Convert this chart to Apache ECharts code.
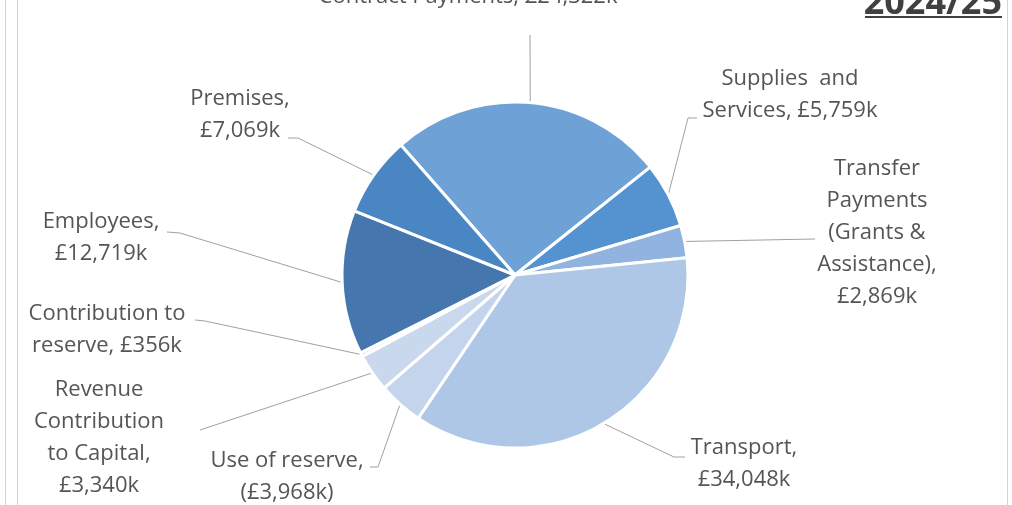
<!DOCTYPE html>
<html>
<head>
<meta charset="utf-8">
<script src="https://cdn.jsdelivr.net/npm/echarts@6/dist/echarts.min.js"></script>
<style>
html,body{margin:0;padding:0;background:#fff;}
#chart{width:1012px;height:505px;}
</style>
</head>
<body>
<div id="chart"></div>
<script>
// ---- data ----
const categories = [
  'Contract Payments',
  'Supplies  and\nServices',
  'Transfer\nPayments\n(Grants &\nAssistance)',
  'Transport',
  'Use of reserve',
  'Revenue\nContribution\nto Capital',
  'Contribution to\nreserve',
  'Employees',
  'Premises'
];
const values = [24322, 5759, 2869, 34048, -3968, 3340, 356, 12719, 7069]; // £k
const valueOnNewLine = [false, false, true, true, true, true, false, true, true];
const title = '2024/25';

// ---- style / layout ----
const colors = ['#6ea2d6', '#5593d0', '#90b4df', '#aec7e6', '#c4d4ec', '#cad8ed', '#dce6f3', '#4576ad', '#4a86c3'];
// label block centre and leader line bend/end points
const labelPos = [
  {x: 468, y: -3,  line: [[530, 35], [530, 35]]},
  {x: 790, y: 95,  line: [[688, 118], [697, 118]]},
  {x: 877, y: 233, line: [[815, 239], [815, 239]]},
  {x: 744, y: 464, line: [[674, 457], [685, 457]]},
  {x: 287, y: 477, line: [[378, 467], [370, 467]]},
  {x: 99,  y: 438, line: [[200, 430], [200, 430]]},
  {x: 107, y: 330, line: [[205, 321], [195, 320]]},
  {x: 101, y: 238, line: [[180, 233], [167, 232]]},
  {x: 240, y: 115, line: [[298, 138], [288, 138]]}
];

function fmtMoney(v) {
  const s = '£' + Math.abs(v).toLocaleString('en-GB') + 'k';
  return v < 0 ? '(' + s + ')' : s;
}

const data = categories.map((c, i) => ({
  name: c,
  value: Math.abs(values[i]),
  itemStyle: {color: colors[i]}
}));

const chart = echarts.init(document.getElementById('chart'), null, {renderer: 'canvas'});
chart.setOption({
  animation: false,
  backgroundColor: '#ffffff',
  graphic: [
    {type: 'line', shape: {x1: 5.5, y1: 0, x2: 5.5, y2: 505}, style: {stroke: '#d4d4d4', lineWidth: 1}},
    {type: 'line', shape: {x1: 17.5, y1: 0, x2: 17.5, y2: 505}, style: {stroke: '#d4d4d4', lineWidth: 1}},
    {type: 'line', shape: {x1: 1007.5, y1: 0, x2: 1007.5, y2: 505}, style: {stroke: '#d4d4d4', lineWidth: 1}},
    {type: 'text', right: 10, top: -14, style: {text: title, font: 'bold 36px "Open Sans"', fill: '#404040'}},
    {type: 'line', shape: {x1: 865, y1: 17, x2: 1002, y2: 17}, style: {stroke: '#404040', lineWidth: 2}}
  ],
  series: [{
    type: 'pie',
    center: [515, 275],
    radius: 173,
    startAngle: 131.3,
    clockwise: true,
    avoidLabelOverlap: false,
    data: data,
    itemStyle: {borderColor: '#ffffff', borderWidth: 3},
    label: {
      show: true,
      position: 'outside',
      fontFamily: '"Open Sans", sans-serif',
      fontSize: 22,
      lineHeight: 32,
      color: '#555555',
      align: 'center',
      formatter: p => {
        const i = p.dataIndex;
        return categories[i] + ',' + (valueOnNewLine[i] ? '\n' : ' ') + fmtMoney(values[i]);
      }
    },
    labelLine: {show: true, lineStyle: {color: '#a0a0a0', width: 1}},
    labelLayout: params => {
      const lp = labelPos[params.dataIndex];
      const start = params.labelLinePoints ? params.labelLinePoints[0] : lp.line[0];
      return {
        x: lp.x,
        y: lp.y,
        align: 'center',
        verticalAlign: 'middle',
        labelLinePoints: [start, lp.line[0], lp.line[1]]
      };
    },
    emphasis: {disabled: true}
  }]
});
</script>
</body>
</html>
